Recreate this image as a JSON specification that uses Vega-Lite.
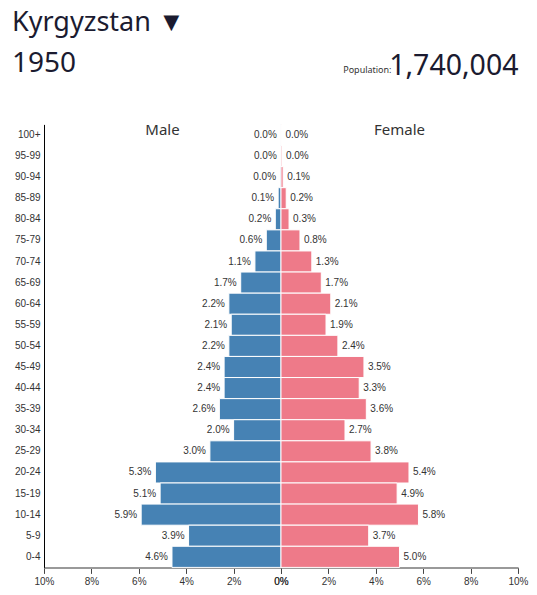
{
  "$schema": "https://vega.github.io/schema/vega-lite/v6.json",
  "background": "white",
  "padding": {"left": 12, "top": 8.4, "right": 0, "bottom": 0},
  "bounds": "flush",
  "spacing": 0,
  "title": {
    "text": "Kyrgyzstan ▼",
    "subtitle": "1950",
    "anchor": "start",
    "frame": "group",
    "dx": -32,
    "offset": -28.4,
    "font": "Noto Sans",
    "fontSize": 27,
    "fontWeight": "normal",
    "color": "#1b1b30",
    "subtitleFont": "Noto Sans",
    "subtitleFontSize": 28,
    "subtitleColor": "#1b1b30",
    "subtitlePadding": 13.2
  },
  "config": {
    "view": {"stroke": null},
    "axis": {"labelFont": "Liberation Sans", "labelFontSize": 10, "labelColor": "#333", "grid": false}
  },
  "datasets": {
    "pop": [
      {"age": "100+", "sex": "Male", "value": 0.0001},
      {"age": "100+", "sex": "Female", "value": 0.0002},
      {"age": "95-99", "sex": "Male", "value": 0.0001},
      {"age": "95-99", "sex": "Female", "value": 0.0004},
      {"age": "90-94", "sex": "Male", "value": 0.0004},
      {"age": "90-94", "sex": "Female", "value": 0.0009},
      {"age": "85-89", "sex": "Male", "value": 0.0012},
      {"age": "85-89", "sex": "Female", "value": 0.0022},
      {"age": "80-84", "sex": "Male", "value": 0.0024},
      {"age": "80-84", "sex": "Female", "value": 0.0034},
      {"age": "75-79", "sex": "Male", "value": 0.0062},
      {"age": "75-79", "sex": "Female", "value": 0.008},
      {"age": "70-74", "sex": "Male", "value": 0.011},
      {"age": "70-74", "sex": "Female", "value": 0.013},
      {"age": "65-69", "sex": "Male", "value": 0.017},
      {"age": "65-69", "sex": "Female", "value": 0.017},
      {"age": "60-64", "sex": "Male", "value": 0.022},
      {"age": "60-64", "sex": "Female", "value": 0.021},
      {"age": "55-59", "sex": "Male", "value": 0.021},
      {"age": "55-59", "sex": "Female", "value": 0.019},
      {"age": "50-54", "sex": "Male", "value": 0.022},
      {"age": "50-54", "sex": "Female", "value": 0.024},
      {"age": "45-49", "sex": "Male", "value": 0.024},
      {"age": "45-49", "sex": "Female", "value": 0.035},
      {"age": "40-44", "sex": "Male", "value": 0.024},
      {"age": "40-44", "sex": "Female", "value": 0.033},
      {"age": "35-39", "sex": "Male", "value": 0.026},
      {"age": "35-39", "sex": "Female", "value": 0.036},
      {"age": "30-34", "sex": "Male", "value": 0.02},
      {"age": "30-34", "sex": "Female", "value": 0.027},
      {"age": "25-29", "sex": "Male", "value": 0.03},
      {"age": "25-29", "sex": "Female", "value": 0.038},
      {"age": "20-24", "sex": "Male", "value": 0.053},
      {"age": "20-24", "sex": "Female", "value": 0.054},
      {"age": "15-19", "sex": "Male", "value": 0.051},
      {"age": "15-19", "sex": "Female", "value": 0.049},
      {"age": "10-14", "sex": "Male", "value": 0.059},
      {"age": "10-14", "sex": "Female", "value": 0.058},
      {"age": "5-9", "sex": "Male", "value": 0.039},
      {"age": "5-9", "sex": "Female", "value": 0.037},
      {"age": "0-4", "sex": "Male", "value": 0.046},
      {"age": "0-4", "sex": "Female", "value": 0.05}
    ]
  },
  "hconcat": [
    {
      "width": 237,
      "height": 443,
      "data": {"name": "pop"},
      "transform": [{"filter": "datum.sex === 'Male'"}],
      "title": {"text": "Male", "font": "Noto Sans", "fontSize": 15, "fontWeight": "normal", "color": "#333", "offset": -14.5, "anchor": "middle"},
      "encoding": {
        "y": {
          "field": "age", "type": "nominal",
          "sort": ["100+", "95-99", "90-94", "85-89", "80-84", "75-79", "70-74", "65-69", "60-64", "55-59", "50-54", "45-49", "40-44", "35-39", "30-34", "25-29", "20-24", "15-19", "10-14", "5-9", "0-4"],
          "scale": {"paddingInner": 0, "paddingOuter": 0},
          "axis": {"title": null, "ticks": false, "domainColor": "#000", "domainWidth": 1, "labelPadding": 4}
        },
        "x": {
          "field": "value", "type": "quantitative",
          "scale": {"domain": [0, 0.1], "reverse": true, "nice": false},
          "axis": {"title": null, "values": [0, 0.02, 0.04, 0.06, 0.08, 0.1], "format": ".0%", "labelFlush": false, "domainColor": "#999", "domainWidth": 2, "tickColor": "#444", "tickSize": 6, "labelPadding": 3}
        }
      },
      "layer": [
        {"mark": {"type": "bar", "color": "#4682b4", "stroke": "white", "strokeWidth": 1}},
        {
          "mark": {"type": "text", "align": "right", "dx": -4, "font": "Liberation Sans", "fontSize": 10, "color": "#333"},
          "encoding": {"text": {"field": "value", "type": "quantitative", "format": ".1%"}}
        }
      ]
    },
    {
      "width": 237,
      "height": 443,
      "data": {"name": "pop"},
      "transform": [{"filter": "datum.sex === 'Female'"}],
      "title": {"text": "Female", "font": "Noto Sans", "fontSize": 15, "fontWeight": "normal", "color": "#333", "offset": -87.25, "anchor": "middle"},
      "encoding": {
        "y": {
          "field": "age", "type": "nominal",
          "sort": ["100+", "95-99", "90-94", "85-89", "80-84", "75-79", "70-74", "65-69", "60-64", "55-59", "50-54", "45-49", "40-44", "35-39", "30-34", "25-29", "20-24", "15-19", "10-14", "5-9", "0-4"],
          "scale": {"paddingInner": 0, "paddingOuter": 0},
          "axis": {"orient": "right", "labels": false, "ticks": false, "domain": false, "title": "Population:", "titleAngle": 0, "titleX": -127, "titleY": -52, "titleAlign": "right", "titleBaseline": "alphabetic", "titleFont": "Noto Sans", "titleFontSize": 9, "titleFontWeight": "normal", "titleColor": "#333"}
        },
        "x": {
          "field": "value", "type": "quantitative",
          "scale": {"domain": [0, 0.1], "nice": false},
          "axis": {"title": "1,740,004", "titleX": 237, "titleY": -493.3, "titleAlign": "right", "titleBaseline": "alphabetic", "titleFont": "Noto Sans", "titleFontSize": 28.5, "titleFontWeight": "normal", "titleColor": "#1b1b30", "values": [0, 0.02, 0.04, 0.06, 0.08, 0.1], "format": ".0%", "labelFlush": false, "domainColor": "#999", "domainWidth": 2, "tickColor": "#444", "tickSize": 6, "labelPadding": 3}
        }
      },
      "layer": [
        {"mark": {"type": "bar", "color": "#ee7a89", "stroke": "white", "strokeWidth": 1}},
        {
          "mark": {"type": "text", "align": "left", "dx": 4, "font": "Liberation Sans", "fontSize": 10, "color": "#333"},
          "encoding": {"text": {"field": "value", "type": "quantitative", "format": ".1%"}}
        }
      ]
    }
  ]
}
